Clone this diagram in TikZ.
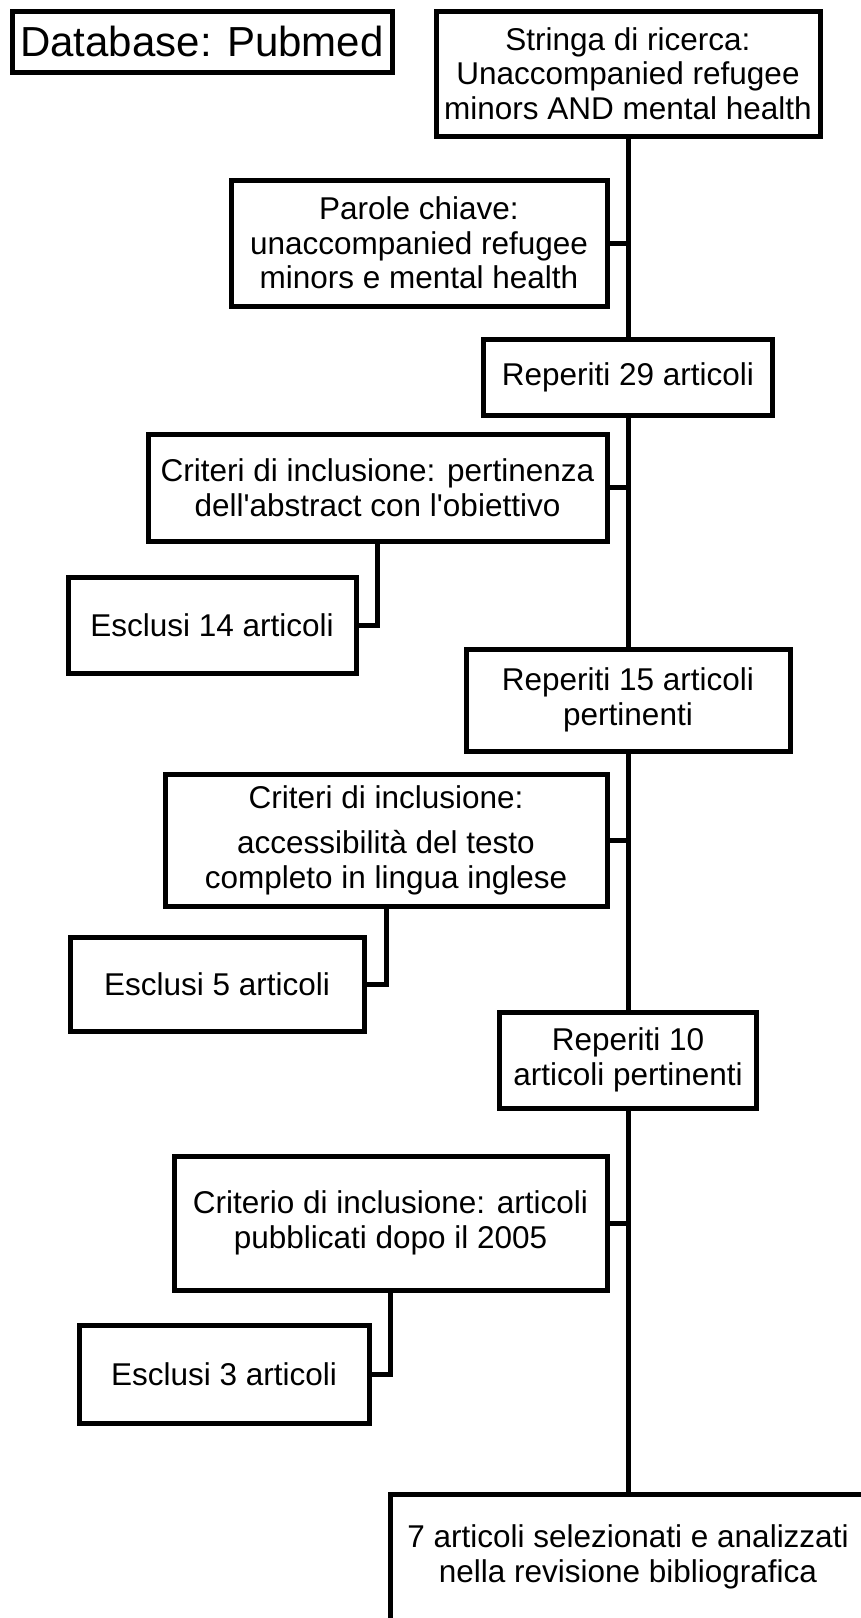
\documentclass[tikz,border=0pt]{standalone}
\usepackage{fontspec}
\setmainfont{Liberation Sans}
\begin{document}
\begin{tikzpicture}[x=1pt, y=-1pt, line width=5pt,
        every node/.style={font=\fontsize{31.5}{34.5}\selectfont, align=center, inner sep=1pt},
        box/.style={draw, rectangle}]
        \fill[white] (0,0) rectangle (861,1618);
        \useasboundingbox (0,0) rectangle (861,1618);
        \clip (0,0) rectangle (861,1618);
        \node[box,minimum width=380pt,minimum height=61pt,font=\fontsize{42}{44}\selectfont] (db) at (202,41.5) {Database: Pubmed};
        \node[box,minimum width=384pt,minimum height=125pt] (stringa) at (628,73.5) {Stringa di ricerca:\\Unaccompanied refugee\\minors AND mental health};
        \node[box,minimum width=376pt,minimum height=126pt] (parole) at (419,243) {Parole chiave:\\unaccompanied refugee\\minors e mental health};
        \node[box,minimum width=289pt,minimum height=76pt] (rep29) at (628,377) {Reperiti 29 articoli};
        \node[box,minimum width=459pt,minimum height=107pt] (crit1) at (377.5,487.5) {Criteri di inclusione: pertinenza\\dell\textquotesingle abstract con l\textquotesingle obiettivo};
        \node[box,minimum width=288pt,minimum height=96pt] (excl14) at (212,625) {Esclusi 14 articoli};
        \node[box,minimum width=324pt,minimum height=102pt] (rep15) at (628,700) {Reperiti 15 articoli\\pertinenti};
        \node[box,minimum width=442pt,minimum height=132pt] (crit2) at (386,840) {Criteri di inclusione:\\[11pt]accessibilità del testo\\completo in lingua inglese};
        \node[box,minimum width=294pt,minimum height=94pt] (excl5) at (217,984) {Esclusi 5 articoli};
        \node[box,minimum width=257pt,minimum height=96pt] (rep10) at (628,1060) {Reperiti 10\\articoli pertinenti};
        \node[box,minimum width=433pt,minimum height=134pt] (crit3) at (390.5,1223) {Criterio di inclusione: articoli\\pubblicati dopo il 2005};
        \node[box,minimum width=476pt,minimum height=126pt] (final) at (628,1557) {7 articoli selezionati e analizzati\\nella revisione bibliografica};
        \node[box,minimum width=290pt,minimum height=98pt] (excl3) at (224,1374) {Esclusi 3 articoli};
        % linea principale
        \draw (stringa)--(rep29);
        \draw (rep29)--(rep15);
        \draw (rep15)--(rep10);
        \draw (rep10)--(final);
        % rami laterali
        \draw (parole.east)--(parole.east -| stringa.south);
        \draw (crit1.east)--(crit1.east -| rep29.south);
        \draw (crit2.east)--(crit2.east -| rep15.south);
        \draw (crit3.east)--(crit3.east -| rep10.south);
        \draw (crit1.south)|-(excl14.east);
        \draw (crit2.south)|-(excl5.east);
        \draw (crit3.south)|-(excl3.east);
    \end{tikzpicture}
\end{document}
